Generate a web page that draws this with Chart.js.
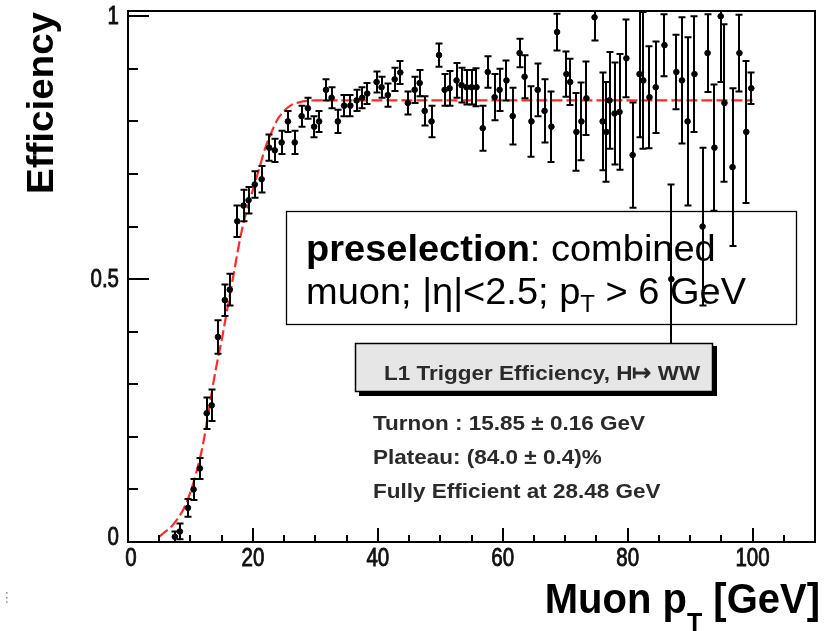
<!DOCTYPE html>
<html lang="en">
<head>
<meta charset="UTF-8">
<title>L1 Trigger Efficiency</title>
<script src="https://cdn.jsdelivr.net/npm/chart.js@4.4.1/dist/chart.umd.min.js"></script>
<style>
  html, body { margin: 0; padding: 0; background: #fff; }
  #wrap { width: 827px; height: 631px; }
</style>
</head>
<body>
<div id="wrap"><canvas id="effChart" width="827" height="631"></canvas></div>
<script>
// measured efficiency per muon pT bin
var ptX = [7.5, 8.3, 9.6, 10.5, 11.5, 12.6, 13.4, 14.4, 15.5, 16.3, 17.5, 18.5, 19.3, 20.3, 21.4,
  22.6, 23.5, 24.6, 25.6, 26.7, 27.8, 28.8, 29.8, 30.6, 31.7, 32.6, 33.6, 34.6, 35.6, 36.6,
  37.5, 38.3, 39.8, 40.6, 41.6, 42.7, 43.6, 44.8, 45.9, 46.7, 47.5, 48.6, 49.8, 50.7, 51.5,
  52.6, 53.4, 54.2, 55.0, 55.8, 56.8, 57.6, 58.7, 59.5, 60.6, 61.6, 62.7, 63.5, 64.6, 65.6,
  66.7, 67.8, 68.7, 70.2, 70.8, 71.8, 72.6, 73.4, 74.7, 76.0, 76.6, 77.1, 77.9, 78.7, 79.8,
  80.8, 81.9, 82.5, 83.5, 84.5, 85.9, 87.0, 87.8, 88.7, 89.6, 90.7, 92.0, 92.8, 93.9, 94.9,
  95.5, 96.8, 97.9, 99.0, 99.8];
var effY = [0.01, 0.02, 0.065, 0.10, 0.14, 0.245, 0.26, 0.39, 0.46, 0.48, 0.61, 0.64, 0.65, 0.68, 0.69,
  0.75, 0.745, 0.76, 0.80, 0.76, 0.81, 0.825, 0.79, 0.80, 0.86, 0.845, 0.80, 0.83, 0.83, 0.84,
  0.845, 0.853, 0.875, 0.865, 0.85, 0.88, 0.893, 0.835, 0.86, 0.873, 0.82, 0.80, 0.926, 0.86, 0.863,
  0.878, 0.869, 0.865, 0.865, 0.865, 0.787, 0.894, 0.846, 0.86, 0.878, 0.81, 0.93, 0.885, 0.80, 0.86,
  0.82, 0.79, 0.97, 0.89, 0.875, 0.78, 0.80, 0.844, 0.998, 0.80, 0.78, 0.84, 0.815, 0.818, 0.92,
  0.736, 0.89, 0.878, 0.846, 0.865, 0.945, 0.50, 0.894, 0.878, 0.80, 0.89, 0.60, 0.93, 0.75, 1.0,
  0.835, 0.713, 0.93, 0.78, 0.863];
var effErr = [0.01, 0.015, 0.017, 0.02, 0.02, 0.03, 0.03, 0.032, 0.03, 0.03, 0.03, 0.03, 0.025, 0.025, 0.025,
  0.025, 0.022, 0.022, 0.02, 0.022, 0.02, 0.02, 0.02, 0.02, 0.02, 0.02, 0.022, 0.02, 0.02, 0.02,
  0.02, 0.02, 0.02, 0.02, 0.022, 0.022, 0.022, 0.022, 0.025, 0.025, 0.028, 0.03, 0.022, 0.03, 0.033,
  0.033, 0.033, 0.033, 0.033, 0.036, 0.043, 0.03, 0.044, 0.04, 0.038, 0.054, 0.027, 0.041, 0.067, 0.05,
  0.06, 0.067, 0.035, 0.043, 0.044, 0.074, 0.074, 0.07, 0.044, 0.093, 0.095, 0.092, 0.097, 0.11, 0.074,
  0.10, 0.12, 0.13, 0.097, 0.087, 0.059, 0.18, 0.071, 0.12, 0.16, 0.11, 0.15, 0.074, 0.12, 0.125,
  0.15, 0.15, 0.073, 0.135, 0.03];

// turn-on fit curve, sampled along the drawn line
var fitX = [5, 6, 7, 8, 9, 10, 11, 12, 13, 14, 15, 16, 17, 18, 19, 20, 21, 22, 23, 24, 25, 26, 27, 28, 30, 40, 60, 80, 100];
var fitY = [0.01, 0.02, 0.03, 0.045, 0.065, 0.095, 0.135, 0.185, 0.255, 0.325, 0.384, 0.45, 0.515, 0.58, 0.63,
  0.67, 0.71, 0.75, 0.78, 0.805, 0.82, 0.83, 0.835, 0.838, 0.84, 0.84, 0.84, 0.84, 0.84];

var xTicks = [0, 20, 40, 60, 80, 100];
var yTicks = [0, 0.5, 1];

var infoLines = ['Turnon : 15.85 \u00b1 0.16 GeV', 'Plateau: (84.0 \u00b1 0.4)%', 'Fully Efficient at 28.48 GeV'];

var points = ptX.map(function (x, i) { return { x: x, y: effY[i] }; });
var fitPts = fitX.map(function (x, i) { return { x: x, y: fitY[i] }; });

// text with an optional vertical stretch and a faux-bold stroke
function stretchText(ctx, txt, x, y, font, align, sy, heavy) {
  ctx.save();
  ctx.font = font;
  ctx.textAlign = align || 'left';
  ctx.textBaseline = 'alphabetic';
  ctx.translate(x, y);
  ctx.scale(1, sy || 1);
  ctx.fillText(txt, 0, 0);
  if (heavy) {
    ctx.strokeStyle = ctx.fillStyle;
    ctx.lineWidth = heavy;
    ctx.strokeText(txt, 0, 0);
  }
  ctx.restore();
}

var errorBars = {
  id: 'errorBars',
  afterDatasetsDraw: function (chart) {
    var ctx = chart.ctx, a = chart.chartArea;
    var xs = chart.scales.x, ys = chart.scales.y;
    ctx.save();
    ctx.beginPath();
    ctx.rect(a.left, a.top, a.right - a.left, a.bottom - a.top);
    ctx.clip();
    ctx.strokeStyle = '#000';
    ctx.lineWidth = 2;
    for (var i = 0; i < ptX.length; i++) {
      var px = Math.round(xs.getPixelForValue(ptX[i]));
      var top = ys.getPixelForValue(effY[i] + effErr[i]);
      var bot = ys.getPixelForValue(effY[i] - effErr[i]);
      ctx.beginPath();
      ctx.moveTo(px, top); ctx.lineTo(px, bot);
      ctx.moveTo(px - 3.5, top); ctx.lineTo(px + 3.5, top);
      ctx.moveTo(px - 3.5, bot); ctx.lineTo(px + 3.5, bot);
      ctx.stroke();
    }
    ctx.restore();
  }
};

var frameAndText = {
  id: 'frameAndText',
  afterDraw: function (chart) {
    var ctx = chart.ctx, a = chart.chartArea;
    var xs = chart.scales.x, ys = chart.scales.y;
    ctx.save();
    ctx.strokeStyle = '#000';
    ctx.fillStyle = '#000';

    // frame
    ctx.lineWidth = 2;
    ctx.strokeRect(a.left, a.top, a.right - a.left, a.bottom - a.top);

    // x ticks, pointing into the frame
    for (var v = 0; v <= 105; v += 5) {
      var px = Math.round(xs.getPixelForValue(v));
      var len = (v % 20 === 0) ? 14 : 7;
      ctx.beginPath(); ctx.moveTo(px, a.bottom); ctx.lineTo(px, a.bottom - len); ctx.stroke();
    }
    // y ticks
    for (var k = 0; k <= 10; k++) {
      var py = Math.round(ys.getPixelForValue(k / 10));
      var ln = (k % 5 === 0) ? 21 : 10;
      ctx.beginPath(); ctx.moveTo(a.left, py); ctx.lineTo(a.left + ln, py); ctx.stroke();
    }

    // tick labels
    var tf = '20.5px "Liberation Sans", Arial, sans-serif';
    ctx.fillStyle = '#111';
    xTicks.forEach(function (t) {
      var px = xs.getPixelForValue(t) + (t === 0 ? 3 : 0);
      stretchText(ctx, String(t), px, 566, tf, 'center', 1.25, 0.7);
    });
    yTicks.forEach(function (t) {
      var py = ys.getPixelForValue(t) + 8;
      if (t === 0) py -= 5;
      stretchText(ctx, String(t), a.left - 9, py, tf, 'right', 1.25, 0.7);
    });

    // axis titles
    ctx.fillStyle = '#000';
    ctx.save();
    ctx.translate(53, 12);
    ctx.rotate(-Math.PI / 2);
    ctx.font = 'bold 36px "Liberation Sans", Arial, sans-serif';
    ctx.textAlign = 'right';
    ctx.scale(1.07, 1);
    ctx.fillText('Efficiency', 0, 0);
    ctx.restore();

    var big = 'bold 40px "Liberation Sans", Arial, sans-serif';
    var sub = 'bold 25px "Liberation Sans", Arial, sans-serif';
    ctx.font = big;
    var w1 = ctx.measureText('Muon p').width;
    var w3 = ctx.measureText(' [GeV]').width;
    ctx.font = sub;
    var w2 = ctx.measureText('T').width;
    var x0 = 820 - w1 - w2 - w3;
    stretchText(ctx, 'Muon p', x0, 613, big, 'left', 1.05);
    stretchText(ctx, 'T', x0 + w1, 631, sub, 'left', 1.0);
    stretchText(ctx, ' [GeV]', x0 + w1 + w2, 613, big, 'left', 1.05);

    // preselection box
    ctx.lineWidth = 1.3;
    ctx.strokeRect(286.5, 211.5, 510, 113);
    var rf = '38px "Liberation Sans", Arial, sans-serif';
    var bf = 'bold 38px "Liberation Sans", Arial, sans-serif';
    var sf = '24px "Liberation Sans", Arial, sans-serif';
    ctx.font = bf;
    var wb = ctx.measureText('preselection').width;
    stretchText(ctx, 'preselection', 306, 261, bf, 'left', 0.97);
    stretchText(ctx, ': combined', 306 + wb, 261, rf, 'left', 0.97);
    ctx.font = rf;
    var wa = ctx.measureText('muon; |\u03b7|<2.5; p').width;
    stretchText(ctx, 'muon; |\u03b7|<2.5; p', 306, 304, rf, 'left', 0.97);
    stretchText(ctx, 'T', 306 + wa, 312, sf, 'left', 1);
    ctx.font = sf;
    var wt = ctx.measureText('T').width;
    stretchText(ctx, ' > 6 GeV', 306 + wa + wt, 304, rf, 'left', 0.97);

    // fit legend with drop shadow
    ctx.fillStyle = '#000';
    ctx.fillRect(359, 346, 358, 50);
    ctx.fillStyle = '#e6e6e6';
    ctx.fillRect(355, 343, 358, 49);
    ctx.lineWidth = 1.5;
    ctx.strokeRect(355.5, 343.5, 357, 48);
    ctx.fillStyle = '#2a2a2a';
    stretchText(ctx, 'L1 Trigger Efficiency, H\u21a6 WW', 384, 380, 'bold 22.5px "Liberation Sans", Arial, sans-serif', 'left', 0.92);

    var lf = 'bold 22.5px "Liberation Sans", Arial, sans-serif';
    var base = [430, 464, 498];
    infoLines.forEach(function (s, i) {
      stretchText(ctx, s, 373, base[i], lf, 'left', 0.93);
    });

    // small page marker at the lower left
    ctx.fillStyle = '#999';
    ctx.font = '14px "DejaVu Sans", sans-serif';
    ctx.fillText('\u22ee', 0, 602);
    ctx.restore();
  }
};

new Chart(document.getElementById('effChart'), {
  type: 'scatter',
  data: {
    datasets: [
      {
        label: 'data',
        data: points,
        pointRadius: 2.8,
        pointBackgroundColor: '#000',
        pointBorderColor: '#000',
        showLine: false
      },
      {
        label: 'fit',
        data: fitPts,
        showLine: true,
        borderColor: 'rgba(255, 20, 20, 0.9)',
        borderWidth: 2.2,
        borderDash: [11, 4],
        cubicInterpolationMode: 'monotone',
        pointRadius: 0
      }
    ]
  },
  options: {
    responsive: false,
    animation: false,
    layout: { padding: { left: 128, top: 11, right: 12, bottom: 89 } },
    plugins: { legend: { display: false }, tooltip: { enabled: false } },
    scales: {
      x: { type: 'linear', min: 0, max: 110, display: false },
      y: { type: 'linear', min: 0, max: 1.01, display: false }
    }
  },
  plugins: [errorBars, frameAndText]
});
</script>
</body>
</html>
